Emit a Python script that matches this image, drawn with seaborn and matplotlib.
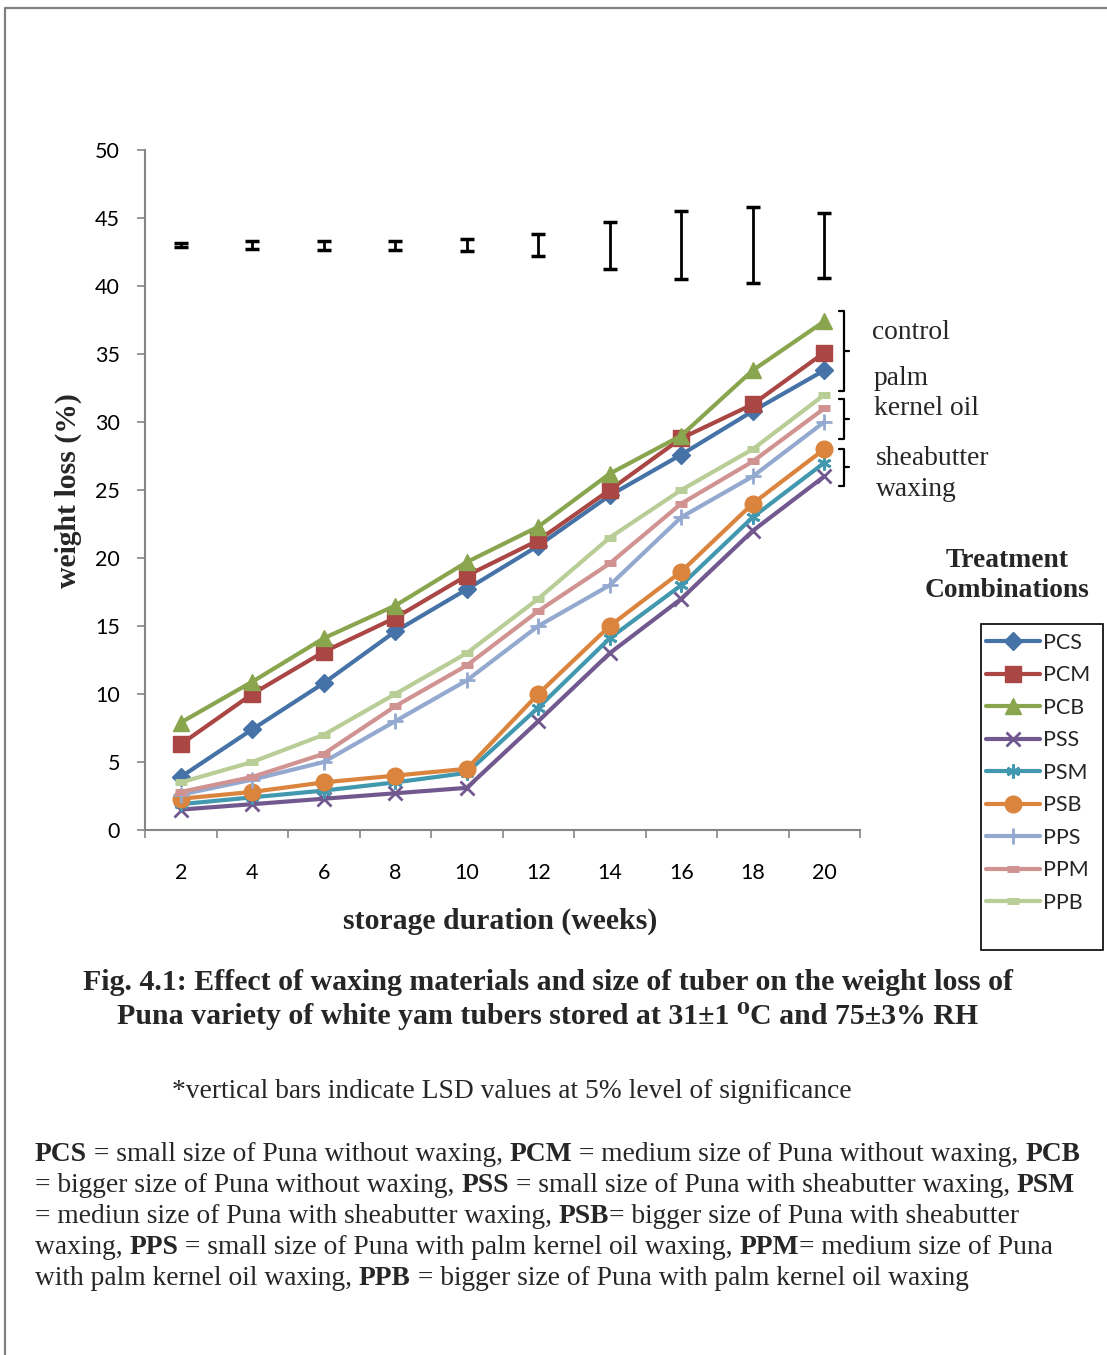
import numpy as np
import pandas as pd
import matplotlib
matplotlib.use("Agg")
import matplotlib.pyplot as plt
import seaborn as sns
from matplotlib.lines import Line2D
from matplotlib.patches import Rectangle

# ---------------- data ----------------
weeks = [2, 4, 6, 8, 10, 12, 14, 16, 18, 20]
PCS = [3.9, 7.4, 10.8, 14.6, 17.7, 20.9, 24.6, 27.6, 30.8, 33.8]
PCM = [6.3, 10.0, 13.1, 15.6, 18.7, 21.3, 25.0, 28.8, 31.3, 35.1]
PCB = [7.9, 10.9, 14.1, 16.5, 19.7, 22.3, 26.2, 29.0, 33.8, 37.4]
PSS = [1.5, 1.9, 2.3, 2.7, 3.1, 8.0, 13.0, 17.0, 22.0, 26.0]
PSM = [1.9, 2.4, 2.9, 3.5, 4.2, 9.0, 14.1, 18.0, 23.0, 27.0]
PSB = [2.3, 2.8, 3.5, 4.0, 4.5, 10.0, 15.0, 19.0, 24.0, 28.0]
PPS = [2.6, 3.7, 5.0, 8.0, 11.0, 15.0, 18.0, 23.0, 26.0, 30.0]
PPM = [2.8, 3.9, 5.6, 9.1, 12.1, 16.1, 19.6, 24.0, 27.1, 31.0]
PPB = [3.5, 5.0, 7.0, 10.0, 13.0, 17.0, 21.5, 25.0, 28.0, 32.0]
series_names = ["PCS", "PCM", "PCB", "PSS", "PSM", "PSB", "PPS", "PPM", "PPB"]
series_values = [PCS, PCM, PCB, PSS, PSM, PSB, PPS, PPM, PPB]
lsd_values = [0.3, 0.55, 0.65, 0.65, 0.9, 1.65, 3.45, 5.0, 5.6, 4.8]
lsd_center = 43
y_ticks = list(range(0, 51, 5))

# ---------------- styles ----------------
colors = ["#4572A7", "#AA4643", "#89A54E", "#71588F", "#4198AF",
          "#DB843D", "#93A9CF", "#D19392", "#B9CD96"]
markers = ["D", "s", "^", "x", (6, 2, 0), "o", "+", "_", "_"]
msizes = [9, 11, 12, 10, 10, 12, 12, 9, 9]
mews = [1, 1, 1, 2, 2, 1, 2, 5, 5]
GRAY = "#868686"
SERIF = ["Liberation Serif", "DejaVu Serif"]

sns.set_theme(style="ticks")
plt.rcParams["font.family"] = ["Lato", "DejaVu Sans"]

W, H = 1107, 1355
fig = plt.figure(figsize=(W / 100, H / 100), dpi=100)
fig.patch.set_facecolor("white")


def fx(x):
    return x / W


def fy(y):
    return 1 - y / H


ax = fig.add_axes([fx(145), fy(830), (860 - 145) / W, (830 - 150) / H])
ax.set_facecolor("white")

for name, vals, c, m, ms, mew in zip(series_names, series_values, colors,
                                     markers, msizes, mews):
    df = pd.DataFrame({"week": weeks, "loss": vals})
    sns.lineplot(data=df, x="week", y="loss", ax=ax, color=c, marker=m,
                 markersize=ms, markeredgewidth=mew, markeredgecolor=c,
                 markerfacecolor=c, linewidth=3, label=name)

ax.errorbar(weeks, [lsd_center] * len(weeks), yerr=np.array(lsd_values) / 2,
            fmt="none", ecolor="black", elinewidth=2, capsize=5, capthick=2.5)

ax.set_xlim(1, 21)
ax.set_ylim(0, 50)
ax.set_yticks(y_ticks)
ax.set_xticks(weeks)
ax.set_xticks(list(range(1, 22, 2)), minor=True)
ax.tick_params(axis="x", which="major", length=0, pad=24, labelsize=15.5,
               labelcolor="black")
ax.tick_params(axis="x", which="minor", length=6, width=1.2, color=GRAY,
               direction="out")
ax.tick_params(axis="y", which="major", length=6, width=1.2, color=GRAY,
               pad=12, labelsize=15.5, labelcolor="black")
sns.despine(ax=ax)
for sp in ["left", "bottom"]:
    ax.spines[sp].set_color(GRAY)
    ax.spines[sp].set_linewidth(1.5)
ax.grid(False)

ax.set_xlabel("storage duration (weeks)", family=SERIF, weight="bold",
              fontsize=21.4)
ax.xaxis.label.set_va("baseline")
ax.xaxis.set_label_coords((500 - 145) / 715, (830 - 929) / 680)
ax.set_ylabel("weight loss (%)", family=SERIF, weight="bold", fontsize=21.4)
ax.yaxis.label.set_va("baseline")
ax.yaxis.label.set_ha("center")
ax.yaxis.set_label_coords((76 - 145) / 715, (830 - 491) / 680)

# legend
handles, labels = ax.get_legend_handles_labels()
ax.get_legend().remove()
fig.legend(handles, labels, loc="upper left",
           bbox_to_anchor=(fx(986), fy(633)), frameon=False, fontsize=15.5,
           handlelength=2.5, handletextpad=0.15, labelspacing=0.58,
           borderpad=0, borderaxespad=0)
fig.patches.append(Rectangle((fx(981), fy(950)), fx(1103) - fx(981),
                             fy(624) - fy(950), transform=fig.transFigure,
                             fill=False, ec="black", lw=1.2))

# brackets
for top, bot, mid in [(311, 391, 351), (399, 439, 419), (449, 486, 467)]:
    xs = [fx(839), fx(844), fx(844), fx(839)]
    ys = [fy(top), fy(top), fy(bot), fy(bot)]
    fig.add_artist(Line2D(xs, ys, transform=fig.transFigure, color="black",
                          lw=1.6))
    fig.add_artist(Line2D([fx(844), fx(849)], [fy(mid), fy(mid)],
                          transform=fig.transFigure, color="black", lw=1.6))

for txt, x, y in [("control", 872, 339), ("palm", 874, 385),
                  ("kernel oil", 874, 415), ("sheabutter", 876, 465),
                  ("waxing", 876, 496)]:
    fig.text(fx(x), fy(y), txt, family=SERIF, fontsize=19.8, ha="left",
             va="baseline")

fig.text(fx(1007), fy(567), "Treatment", family=SERIF, weight="bold",
         fontsize=19.8, ha="center", va="baseline")
fig.text(fx(1007), fy(597), "Combinations", family=SERIF, weight="bold",
         fontsize=19.8, ha="center", va="baseline")

# caption
fig.text(fx(548), fy(990),
         "Fig. 4.1: Effect of waxing materials and size of tuber on the weight loss of",
         family=SERIF, weight="bold", fontsize=21.5, ha="center", va="baseline")
fig.text(fx(548), fy(1024),
         "Puna variety of white yam tubers stored at 31\u00b11 \u2070C and 75\u00b13% RH",
         family=SERIF, weight="bold", fontsize=21.5, ha="center", va="baseline")
fig.text(fx(172), fy(1098),
         "*vertical bars indicate LSD values at 5% level of significance",
         family=SERIF, fontsize=19.8, ha="left", va="baseline")

# paragraph with mixed bold
para = [
    [("PCS", True), (" = small size of Puna without waxing, ", False),
     ("PCM", True), (" = medium size of Puna without waxing, ", False),
     ("PCB", True)],
    [("= bigger size of Puna without waxing, ", False), ("PSS", True),
     (" = small size of Puna with sheabutter waxing, ", False), ("PSM", True)],
    [("= mediun size of Puna with sheabutter waxing, ", False), ("PSB", True),
     ("= bigger size of Puna with sheabutter", False)],
    [("waxing, ", False), ("PPS", True),
     (" = small size of Puna with palm kernel oil waxing, ", False),
     ("PPM", True), ("= medium size of Puna", False)],
    [("with palm kernel oil waxing, ", False), ("PPB", True),
     (" = bigger size of Puna with palm kernel oil waxing", False)],
]
baselines = [1161, 1192, 1223, 1254, 1285]
PFS = 19.8
fig.canvas.draw()
renderer = fig.canvas.get_renderer()


def seg_width(s, bold):
    kw = dict(family=SERIF, fontsize=PFS, weight="bold" if bold else "normal")
    t1 = fig.text(0, 0, "|" + s + "|", **kw)
    t2 = fig.text(0, 0, "||", **kw)
    w = t1.get_window_extent(renderer).width - t2.get_window_extent(renderer).width
    t1.remove()
    t2.remove()
    return w


for line, by in zip(para, baselines):
    x = 35.0
    for s, bold in line:
        fig.text(fx(x), fy(by), s, family=SERIF, fontsize=PFS,
                 weight="bold" if bold else "normal", ha="left", va="baseline")
        x += seg_width(s, bold)

# page border
fig.add_artist(Line2D([fx(5), fx(5), fx(1107)], [fy(1355), fy(8), fy(8)],
                      transform=fig.transFigure, color="#808080", lw=1.6))

fig.savefig("out.png", dpi=100, facecolor="white")
